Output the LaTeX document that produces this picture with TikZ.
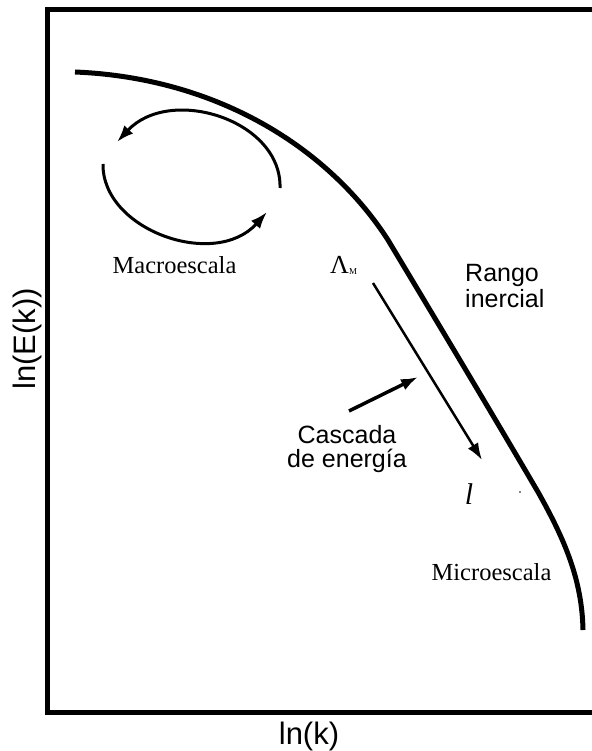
\documentclass[tikz,border=0pt]{standalone}
\usepackage{fontspec}
\setmainfont{Liberation Serif}
\setsansfont{Liberation Sans}
\usetikzlibrary{arrows.meta}

\tikzset{
  serif label/.style={inner sep=0pt, font=\fontsize{24.5}{26}\selectfont},
  sans label/.style={inner sep=0pt, align=center, font=\sffamily\fontsize{25}{24}\selectfont},
  axis label/.style={inner sep=0pt, font=\sffamily\fontsize{31}{31}\selectfont}
}

\begin{document}
\begin{tikzpicture}[x=1pt, y=-1pt, >={Latex[length=17pt,width=12pt]}]
\useasboundingbox (0,0) rectangle (591,751);
% axes frame
\draw[line width=5pt] (596,9.5) -- (47,9.5) -- (47,712) -- (596,712);
% energy spectrum
\draw[line width=5pt] (75,72) .. controls (220,78) and (330,150) .. (388,240)
  .. controls (430,310) and (490,410) .. (538,492)
  .. controls (565,540) and (582,580) .. (583,630);
% large eddy
\coordinate (eddyA) at (280,188);
\coordinate (eddyB) at (117,142);
\coordinate (eddyC) at (103,164);
\coordinate (eddyD) at (267,212);
\draw[line width=3pt,->] (eddyA) .. controls (282,120) and (170,85) .. (eddyB);
\draw[line width=3pt,->] (eddyC) .. controls (102,230) and (215,270) .. (eddyD);
\node[serif label, anchor=base] (macro) at (174.5,273) {Macroescala};
% cascade
\node[inner sep=0pt, anchor=base west] (lambdaM) at (330,273)
  {\fontsize{26}{26}\selectfont Λ\raisebox{-1pt}{\fontsize{9}{9}\selectfont M}};
\node[inner sep=0pt, anchor=base] (ell) at (469,504) {\fontsize{30}{30}\selectfont\itshape l};
\coordinate (cascTop) at (373,283);
\coordinate (cascEnd) at (482,460);
\draw[line width=2.5pt,->] (cascTop) -- (cascEnd);
\node[sans label, anchor=north] (cascada) at (347,425) {Cascada\\de energía};
\coordinate (pointTail) at (349,411);
\coordinate (pointTip) at (418,377);
\draw[line width=3.5pt,->] (pointTail) -- (pointTip);
\node[sans label, align=left, font=\sffamily\fontsize{25}{26}\selectfont, anchor=north west] (rango) at (465,264) {Rango\\inercial};
\fill (520,492) circle (0.8);
\node[serif label, anchor=base] (micro) at (491.5,580) {Microescala};
% axis labels
\node[axis label, rotate=90] (ylab) at (27,339) {ln(E(k))};
\node[axis label, anchor=base] (xlab) at (309,744) {ln(k)};
\end{tikzpicture}
\end{document}
